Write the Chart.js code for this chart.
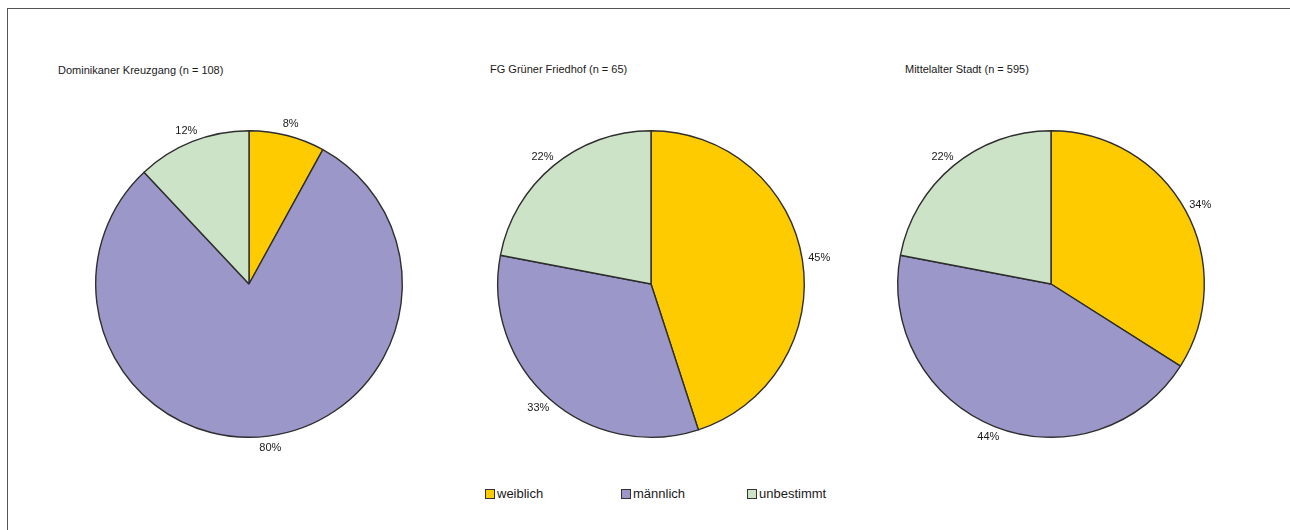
<!DOCTYPE html>
<html>
<head>
<meta charset="utf-8">
<script src="https://cdn.jsdelivr.net/npm/chart.js@4.4.1/dist/chart.umd.min.js"></script>
<style>
  html, body { margin: 0; padding: 0; background: #fff; }
  body { width: 1290px; height: 530px; position: relative; overflow: hidden; font-family: "Liberation Sans", Arial, sans-serif; color: #222; }
  #frameTop { position: absolute; left: 8px; top: 8px; width: 1282px; height: 0; border-top: 1.5px solid #555; }
  #frameLeft { position: absolute; left: 7px; top: 8px; width: 0; height: 522px; border-left: 1.5px solid #555; }
  .title { position: absolute; font-size: 11px; white-space: nowrap; color: #1a1a1a; }
  canvas { position: absolute; }
  #legend { position: absolute; left: 485px; top: 486px; font-size: 13px; display: flex; color: #1a1a1a; }
  .lg { display: flex; align-items: center; position: absolute; white-space: nowrap; }
  .sw { width: 8px; height: 8px; border: 1.5px solid #333; margin-right: 2px; }
</style>
</head>
<body>
<div id="frameTop"></div>
<div id="frameLeft"></div>
<div id="legend"></div>
<script>
// ---- data ----
const categories = ["weiblich", "männlich", "unbestimmt"];
const chartTitles = ["Dominikaner Kreuzgang (n = 108)", "FG Grüner Friedhof (n = 65)", "Mittelalter Stadt (n = 595)"];
const valuesKreuzgang = [8, 80, 12];
const valuesFriedhof = [45, 33, 22];
const valuesStadt = [34, 44, 22];
const sliceColors = ["#FDCB00", "#9B97C9", "#CCE3C7"];

// ---- layout (positions only) ----
const charts = [
  { title: chartTitles[0], values: valuesKreuzgang, cx: 249, cy: 284, tx: 58, ty: 64 },
  { title: chartTitles[1], values: valuesFriedhof, cx: 651, cy: 284, tx: 490, ty: 63 },
  { title: chartTitles[2], values: valuesStadt, cx: 1051, cy: 284, tx: 905, ty: 63 }
];
const R = 154;
const pad = 46;
const size = 2 * (R + pad);

const pctLabels = {
  id: 'pctLabels',
  afterDatasetsDraw(chart) {
    const ctx = chart.ctx;
    const meta = chart.getDatasetMeta(0);
    const data = chart.data.datasets[0].data;
    ctx.save();
    ctx.font = '11px "Liberation Sans", Arial, sans-serif';
    ctx.fillStyle = '#1a1a1a';
    ctx.textAlign = 'center';
    ctx.textBaseline = 'middle';
    meta.data.forEach((arc, i) => {
      const p = arc.getProps(['x', 'y', 'startAngle', 'endAngle', 'outerRadius'], true);
      const mid = (p.startAngle + p.endAngle) / 2;
      const dx = Math.cos(mid), dy = Math.sin(mid);
      const txt = data[i] + '%';
      const w = ctx.measureText(txt).width;
      const h = 11;
      const rr = p.outerRadius + 6;
      const x = p.x + dx * rr + dx * w / 2;
      const y = p.y + dy * rr + dy * h / 2;
      ctx.fillText(txt, x, y);
    });
    ctx.restore();
  }
};

charts.forEach((c) => {
  const t = document.createElement('div');
  t.className = 'title';
  t.style.left = c.tx + 'px';
  t.style.top = c.ty + 'px';
  t.textContent = c.title;
  document.body.appendChild(t);

  const cv = document.createElement('canvas');
  cv.width = size; cv.height = size;
  cv.style.width = size + 'px'; cv.style.height = size + 'px';
  cv.style.left = (c.cx - size / 2) + 'px';
  cv.style.top = (c.cy - size / 2) + 'px';
  document.body.appendChild(cv);

  new Chart(cv, {
    type: 'pie',
    data: {
      labels: categories,
      datasets: [{
        data: c.values,
        backgroundColor: sliceColors,
        borderColor: '#2e2e2e',
        borderWidth: 1.4
      }]
    },
    options: {
      responsive: false,
      animation: false,
      layout: { padding: pad },
      plugins: { legend: { display: false }, tooltip: { enabled: false }, title: { display: false } }
    },
    plugins: [pctLabels]
  });
});

// legend built from categories
const legend = document.getElementById('legend');
const legendX = [0, 136, 262];
categories.forEach((name, i) => {
  const it = document.createElement('div');
  it.className = 'lg';
  it.style.left = legendX[i] + 'px';
  const sw = document.createElement('div');
  sw.className = 'sw';
  sw.style.background = sliceColors[i];
  const tx = document.createElement('span');
  tx.textContent = name;
  it.appendChild(sw); it.appendChild(tx);
  legend.appendChild(it);
});
</script>
</body>
</html>
